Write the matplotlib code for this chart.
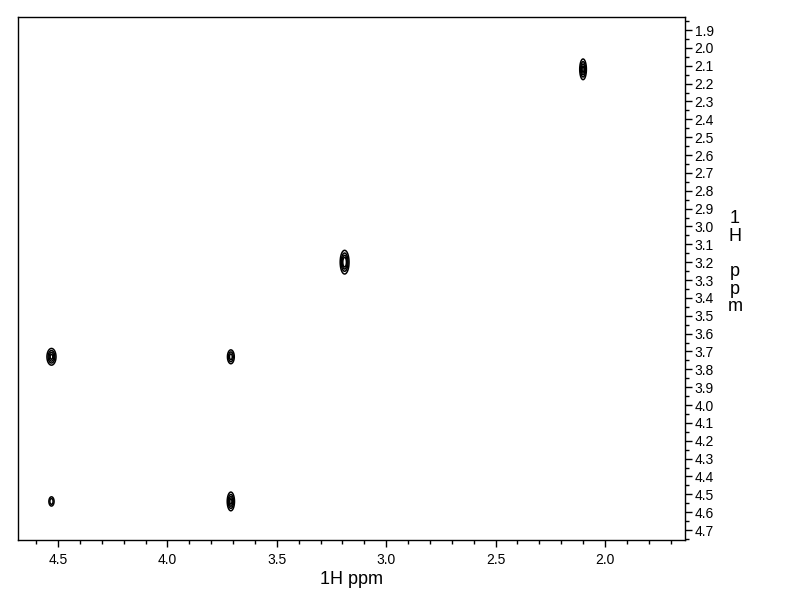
import numpy as np
import matplotlib.pyplot as plt
import matplotlib.ticker as mticker

plt.rcParams['font.family'] = ['Liberation Sans', 'DejaVu Sans']

# --- Data: cross peaks (F2 ppm, F1 ppm), half widths (ppm), heights ---
peak_x = [2.10, 3.19, 4.53, 3.71, 4.53, 3.71]
peak_y = [2.12, 3.20, 3.73, 3.73, 4.54, 4.54]
width_x = [0.011, 0.014, 0.015, 0.012, 0.010, 0.012]
width_y = [0.042, 0.046, 0.034, 0.030, 0.022, 0.038]
height = [1.0, 1.2, 1.0, 0.8, 0.6, 1.0]
levels = [0.15, 0.35, 0.6, 0.85]

X_RANGE = (4.683, 1.634)
Y_RANGE = (4.756, 1.827)

xg = np.linspace(4.75, 1.6, 1600)
yg = np.linspace(1.8, 4.8, 1600)
XX, YY = np.meshgrid(xg, yg)
Z = np.zeros_like(XX)
for px, py, wx, wy, h in zip(peak_x, peak_y, width_x, width_y, height):
    Z += h * np.exp(-((XX - px) / wx) ** 2 - ((YY - py) / wy) ** 2)

fig = plt.figure(figsize=(7.92, 6.12), dpi=100)
ax = fig.add_axes([18 / 792, 1 - 540 / 612, 667 / 792, 523 / 612])
ax.contour(XX, YY, Z, levels=levels, colors='black', linewidths=1.1)

ax.set_xlim(*X_RANGE)
ax.set_ylim(*Y_RANGE)

ax.xaxis.set_major_locator(mticker.MultipleLocator(0.5))
ax.xaxis.set_minor_locator(mticker.MultipleLocator(0.1))
ax.xaxis.set_major_formatter(mticker.FormatStrFormatter('%.1f'))
ax.yaxis.set_major_locator(mticker.MultipleLocator(0.1))
ax.yaxis.set_minor_locator(mticker.MultipleLocator(0.05))
ax.yaxis.set_major_formatter(mticker.FormatStrFormatter('%.1f'))
ax.yaxis.tick_right()

ax.tick_params(axis='both', which='major', direction='out', length=5,
               width=1, labelsize=10, pad=2)
ax.tick_params(axis='both', which='minor', direction='out', length=3, width=1)
ax.tick_params(axis='x', pad=4)

for s in ax.spines.values():
    s.set_linewidth(1)

ax.set_xlabel('1H ppm', fontsize=13, labelpad=3)
fig.text(735 / 792, 1 - 210 / 612, '1\nH\n\np\np\nm', fontsize=13,
         ha='center', va='top', linespacing=1.05)

plt.savefig('out.png', dpi=100)
